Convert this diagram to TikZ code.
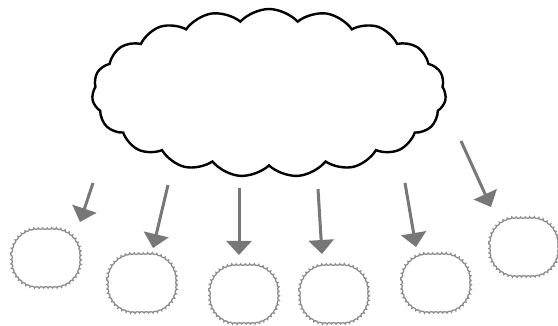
\documentclass[tikz,border=0pt]{standalone}
\usepackage{tikz}
\usetikzlibrary{arrows.meta,shapes.symbols,decorations.pathmorphing}
\definecolor{ArrGray}{HTML}{777777}
\definecolor{PuffGray}{HTML}{8C8C8C}

\begin{document}
\begin{tikzpicture}[x=1pt,y=-1pt,
  bigcloud/.style={cloud,draw=black,line width=2.4pt,cloud puffs=19,cloud puff arc=95,cloud ignores aspect,minimum width=354pt,minimum height=168pt,inner sep=0pt},
  smallcloud/.style={draw=PuffGray,line width=1.3pt,decorate,decoration={bumps,segment length=9pt,amplitude=1.3pt}},
  arr/.style={-{Triangle[width=25pt,length=14pt]},line width=3pt,ArrGray},
  puff/.pic={
    \draw[smallcloud] (-35,-3) -- (-35,3) arc[start angle=180,end angle=90,radius=27]
      -- (8,30) arc[start angle=90,end angle=0,radius=27]
      -- (35,-3) arc[start angle=0,end angle=-90,radius=27]
      -- (-8,-30) arc[start angle=-90,end angle=-180,radius=27] -- cycle;
  },
]
\useasboundingbox (0,0) rectangle (558,326);
\node[bigcloud] (sky) at (269,93) {};
% the six small clouds
\pic (c1) at (46,258) {puff};
\pic (c2) at (142,283) {puff};
\pic (c3) at (244,294) {puff};
\pic (c4) at (334,294) {puff};
\pic (c5) at (436,283) {puff};
\pic (c6) at (524,247) {puff};
% arrow ends
\coordinate (s1) at (93,183);  \coordinate (e1) at (80,222);
\coordinate (s2) at (168,185); \coordinate (e2) at (153,248);
\coordinate (s3) at (239,188); \coordinate (e3) at (239,255);
\coordinate (s4) at (318,189); \coordinate (e4) at (322,254);
\coordinate (s5) at (405,183); \coordinate (e5) at (416,247);
\coordinate (s6) at (461,141); \coordinate (e6) at (491,207);
\foreach \i in {1,...,6}
  \draw[arr] (s\i) -- (e\i);
\end{tikzpicture}
\end{document}
